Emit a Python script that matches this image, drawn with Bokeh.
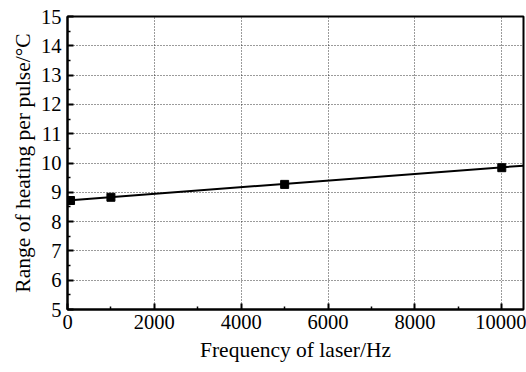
from bokeh.plotting import figure
from bokeh.models import FixedTicker, Range1d, LinearAxis, Grid
from bokeh.embed import file_html
from bokeh.resources import INLINE

# data
freq = [70, 1000, 5000, 10000]
heat = [8.72, 8.83, 9.27, 9.84]
fit_x = [0, 10500]
fit_y = [8.72, 9.91]
x_ticks = [0, 2000, 4000, 6000, 8000, 10000]
x_minor = [1000, 3000, 5000, 7000, 9000]
y_ticks = [5, 6, 7, 8, 9, 10, 11, 12, 13, 14, 15]
y_minor = [5.5, 6.5, 7.5, 8.5, 9.5, 10.5, 11.5, 12.5, 13.5, 14.5]

FONT = "Liberation Serif"

p = figure(width=526, height=372, output_backend="svg", toolbar_location=None,
           x_range=Range1d(0, 10500), y_range=Range1d(5, 15),
           x_axis_type=None, y_axis_type=None,
           min_border_left=67, min_border_right=3, min_border_top=16, min_border_bottom=63)
p.background_fill_color = "white"
p.border_fill_color = "white"
p.outline_line_color = "black"
p.outline_line_width = 2


def make_axis(ticks, minor, label):
    ax = LinearAxis(ticker=FixedTicker(ticks=ticks, minor_ticks=minor))
    ax.axis_label = label
    ax.axis_line_width = 2
    ax.axis_line_color = "black"
    ax.major_tick_in = 6
    ax.major_tick_out = 0
    ax.minor_tick_in = 3
    ax.minor_tick_out = 0
    ax.major_tick_line_width = 2
    ax.minor_tick_line_width = 1.5
    ax.major_label_text_font = FONT
    ax.major_label_text_font_size = "20.5px"
    ax.major_label_text_font_style = "normal"
    ax.major_label_text_color = "black"
    ax.axis_label_text_font = FONT
    ax.axis_label_text_font_size = "21.5px"
    ax.axis_label_text_font_style = "normal"
    ax.axis_label_text_color = "black"
    return ax


xa = make_axis(x_ticks, x_minor, "Frequency of laser/Hz")
xa.major_label_standoff = 5
xa.axis_label_standoff = 6
ya = make_axis(y_ticks, y_minor, "Range of heating per pulse/°C")
ya.major_label_standoff = 6
ya.axis_label_standoff = 3
p.add_layout(xa, "below")
p.add_layout(ya, "left")

for dim, ticks in ((0, x_ticks), (1, y_ticks)):
    g = Grid(dimension=dim, ticker=FixedTicker(ticks=ticks))
    g.grid_line_color = "#222222"
    g.grid_line_dash = "1 2"
    g.grid_line_width = 1
    g.grid_line_alpha = 0.9
    p.add_layout(g)

p.line(fit_x, fit_y, line_color="black", line_width=2)
p.scatter(freq, heat, marker="square", size=8, fill_color="black", line_color="black")

open("out.html", "w").write(file_html(p, INLINE))
